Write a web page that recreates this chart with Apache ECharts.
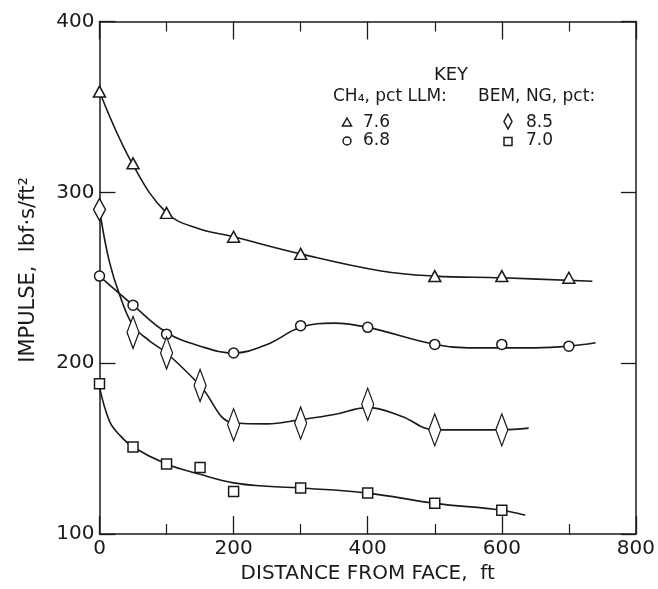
<!DOCTYPE html>
<html>
<head>
<meta charset="utf-8">
<script src="https://cdn.jsdelivr.net/npm/echarts@6/dist/echarts.min.js"></script>
<style>
html,body{margin:0;padding:0;background:#fff;}
#chart{width:658px;height:589px;}
</style>
</head>
<body>
<div id="chart"></div>
<script>
// ---- data ----
const xTicks = [0, 200, 400, 600, 800];
const yTicks = [100, 200, 300, 400];

// CH4 7.6 pct (LLM) - triangles
const triX = [0, 50, 100, 200, 300, 500, 600, 700];
const triY = [359, 317, 288, 274, 264, 251, 251, 250];
// CH4 6.8 pct (LLM) - circles
const cirX = [0, 50, 100, 200, 300, 400, 500, 600, 700];
const cirY = [251, 234, 217, 206, 222, 221, 211, 211, 210];
// NG 8.5 pct (BEM) - diamonds
const diaX = [0, 50, 100, 150, 200, 300, 400, 500, 600];
const diaY = [290, 218, 206, 187, 164, 165, 176, 161, 161];
// NG 7.0 pct (BEM) - squares
const sqX = [0, 50, 100, 150, 200, 300, 400, 500, 600];
const sqY = [188, 151, 141, 139, 125, 127, 124, 118, 114];

// hand-fitted curves as drawn in the reference
const triCurveX = [2, 50, 100, 146, 200, 300, 420, 500, 600, 735];
const triCurveY = [357, 316, 288, 279, 274, 264, 254, 251, 250, 248];
const cirCurveX = [0, 50, 100, 150, 200, 250, 300, 350, 400, 500, 550, 650, 700, 740];
const cirCurveY = [251, 234, 218, 210, 206, 211, 221, 223.5, 221, 211, 209, 209, 210, 212];
const diaCurveX = [2, 15, 30, 50, 75, 100, 150, 200, 250, 300, 350, 400, 450, 500, 600, 640];
const diaCurveY = [285, 259, 240, 222, 213, 206, 187, 165, 164.5, 167, 170, 174, 169, 161, 161, 162];
const sqCurveX = [0, 15, 30, 50, 100, 150, 200, 250, 300, 400, 500, 600, 635];
const sqCurveY = [186, 166, 158, 151, 141, 135, 130, 128, 127, 124, 118, 114, 111];

const zip = (xs, ys) => xs.map((x, i) => [x, ys[i]]);

const FONT = 'DejaVu Sans';
const INK = '#1a1a1a';

const chart = echarts.init(document.getElementById('chart'), null, {renderer: 'canvas'});

function curve(name, xs, ys) {
  return {
    name: name, type: 'line', data: zip(xs, ys), smooth: 0.4,
    showSymbol: false, symbol: 'none', silent: true, z: 2,
    lineStyle: {color: INK, width: 1.6}
  };
}
function marks(name, xs, ys, symbol, size) {
  return {
    name: name, type: 'scatter', data: zip(xs, ys), symbol: symbol, symbolSize: size, z: 5,
    itemStyle: {color: '#fff', borderColor: INK, borderWidth: 1.5, opacity: 1}
  };
}

const axisBase = {
  type: 'value', min: 0, max: 800, interval: 200,
  axisLine: {show: true, onZero: false, lineStyle: {color: INK, width: 1.5}},
  splitLine: {show: false},
  minorTick: {show: true, splitNumber: 2, length: 10, lineStyle: {color: INK, width: 1.2}},
  axisTick: {show: true, inside: true, length: 18, lineStyle: {color: INK, width: 1.3}}
};
const yBase = {
  type: 'value', min: 100, max: 400, interval: 100,
  axisLine: {show: true, onZero: false, lineStyle: {color: INK, width: 1.5}},
  splitLine: {show: false},
  axisTick: {show: true, inside: true, length: 16, lineStyle: {color: INK, width: 1.3}}
};

const lblStyle = {fontFamily: FONT, fontSize: 17, fill: INK};

chart.setOption({
  animation: false,
  backgroundColor: '#fff',
  grid: {left: 99.5, right: 7, top: 21.5, bottom: 52.5, containLabel: false},
  xAxis: [
    Object.assign({}, axisBase, {
      position: 'bottom',
      axisLabel: {show: true, fontFamily: FONT, fontSize: 20, color: INK, margin: 5},
      name: 'DISTANCE FROM FACE,  ft', nameLocation: 'middle', nameGap: 27,
      nameTextStyle: {fontFamily: FONT, fontSize: 20, color: INK}
    }),
    Object.assign({}, axisBase, {position: 'top', axisLabel: {show: false}})
  ],
  yAxis: [
    Object.assign({}, yBase, {
      position: 'left',
      axisLabel: {show: true, fontFamily: FONT, fontSize: 20, color: INK, margin: 5}
    }),
    Object.assign({}, yBase, {position: 'right', axisLabel: {show: false},
      axisTick: {show: true, inside: true, length: 15, lineStyle: {color: INK, width: 1.3}}})
  ],
  graphic: [
    {type: 'text', rotation: Math.PI / 2, x: 29, y: 270,
      style: {text: 'IMPULSE,  lbf·s/ft²', fontFamily: FONT, fontSize: 21, fill: INK,
        align: 'center', verticalAlign: 'middle'}},
    {type: 'text', x: 451, y: 75, style: {text: 'KEY', fontFamily: FONT, fontSize: 18, fill: INK, align: 'center', verticalAlign: 'middle'}},
    {type: 'text', x: 333, y: 97, style: Object.assign({text: 'CH₄, pct LLM:', align: 'left', verticalAlign: 'middle'}, lblStyle)},
    {type: 'text', x: 478, y: 97, style: Object.assign({text: 'BEM, NG, pct:', align: 'left', verticalAlign: 'middle'}, lblStyle)},
    {type: 'text', x: 363, y: 123, style: Object.assign({text: '7.6', align: 'left', verticalAlign: 'middle'}, lblStyle)},
    {type: 'text', x: 363, y: 141, style: Object.assign({text: '6.8', align: 'left', verticalAlign: 'middle'}, lblStyle)},
    {type: 'text', x: 526, y: 123, style: Object.assign({text: '8.5', align: 'left', verticalAlign: 'middle'}, lblStyle)},
    {type: 'text', x: 526, y: 141, style: Object.assign({text: '7.0', align: 'left', verticalAlign: 'middle'}, lblStyle)},
    {type: 'polygon', shape: {points: [[347, 118], [351.5, 126], [342.5, 126]]}, style: {fill: '#fff', stroke: INK, lineWidth: 1.5}},
    {type: 'circle', shape: {cx: 347, cy: 141, r: 4}, style: {fill: '#fff', stroke: INK, lineWidth: 1.5}},
    {type: 'polygon', shape: {points: [[508, 114], [512, 121.5], [508, 129], [504, 121.5]]}, style: {fill: '#fff', stroke: INK, lineWidth: 1.5}},
    {type: 'rect', shape: {x: 504, y: 137.5, width: 8, height: 8}, style: {fill: '#fff', stroke: INK, lineWidth: 1.5}}
  ],
  series: [
    curve('c76', triCurveX, triCurveY),
    curve('c68', cirCurveX, cirCurveY),
    curve('c85', diaCurveX, diaCurveY),
    curve('c70', sqCurveX, sqCurveY),
    marks('7.6', triX, triY, 'triangle', [12, 11]),
    marks('6.8', cirX, cirY, 'circle', 10),
    marks('8.5', diaX, diaY, 'diamond', function (v, p) { return p.dataIndex === 0 ? [12, 22] : [12, 32]; }),
    marks('7.0', sqX, sqY, 'rect', 10)
  ]
});
</script>
</body>
</html>
